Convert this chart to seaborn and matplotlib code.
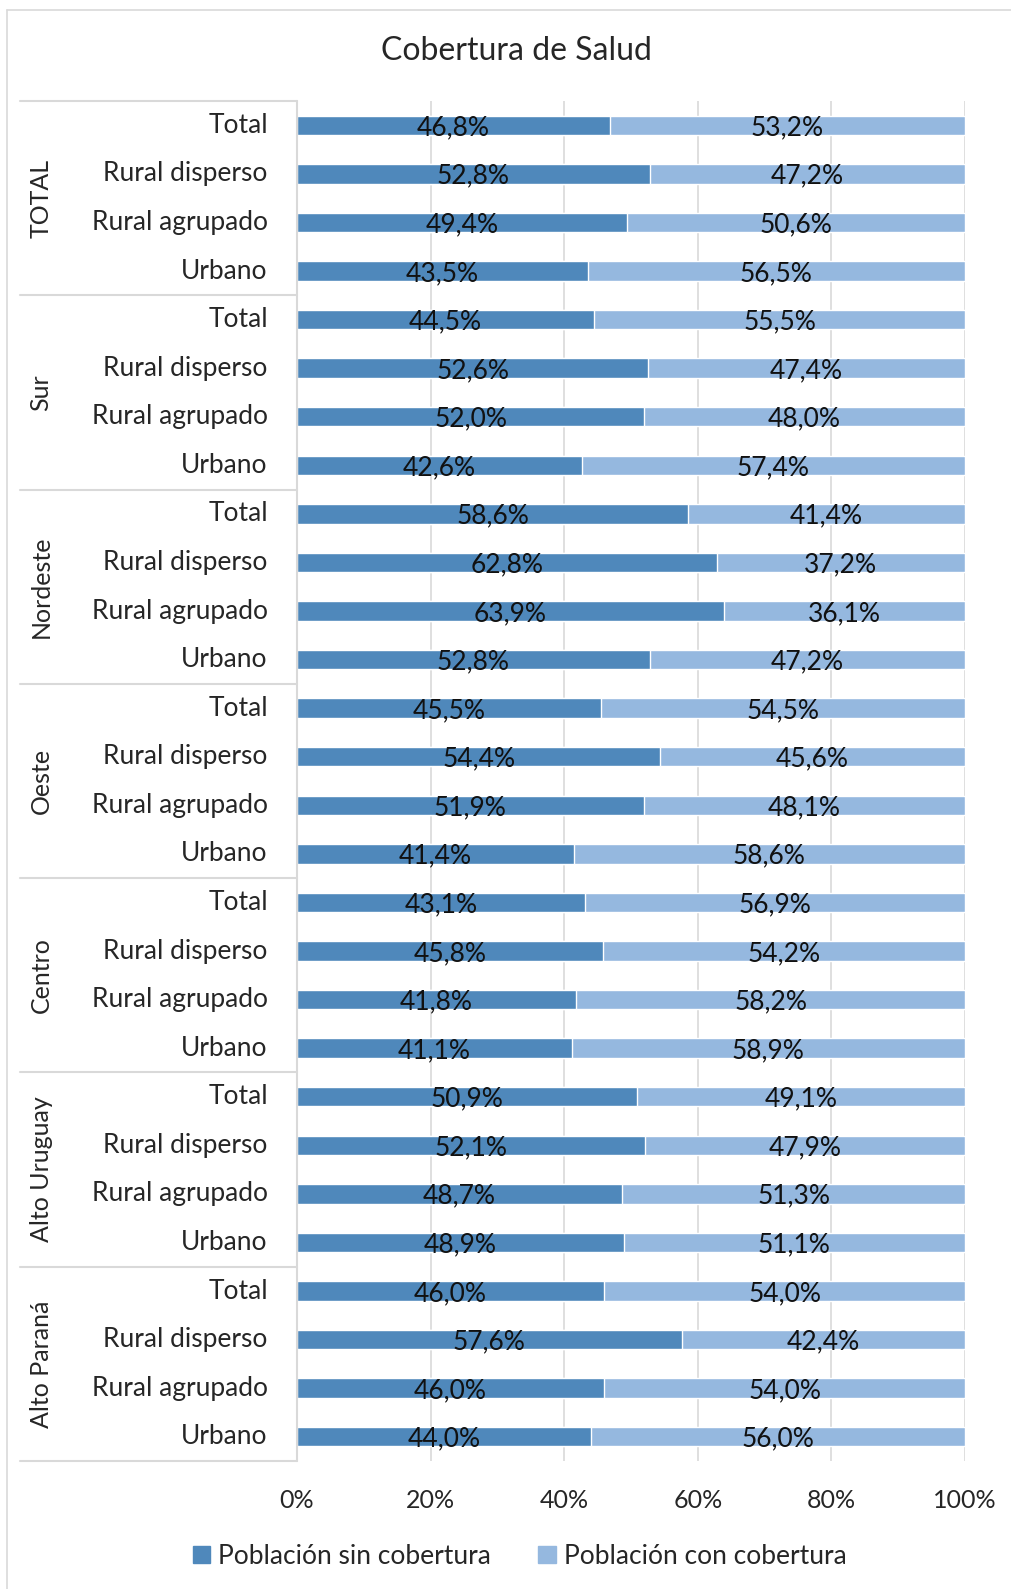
import pandas as pd
import matplotlib
matplotlib.use('Agg')
import matplotlib.pyplot as plt
import matplotlib.transforms as mtransforms
from matplotlib.patches import Patch
import seaborn as sns

# data (top to bottom)
regiones = ['TOTAL', 'Sur', 'Nordeste', 'Oeste', 'Centro', 'Alto Uruguay', 'Alto Paraná']
areas = ['Total', 'Rural disperso', 'Rural agrupado', 'Urbano']

sin_cobertura = [46.8, 52.8, 49.4, 43.5,
                 44.5, 52.6, 52.0, 42.6,
                 58.6, 62.8, 63.9, 52.8,
                 45.5, 54.4, 51.9, 41.4,
                 43.1, 45.8, 41.8, 41.1,
                 50.9, 52.1, 48.7, 48.9,
                 46.0, 57.6, 46.0, 44.0]
con_cobertura = [53.2, 47.2, 50.6, 56.5,
                 55.5, 47.4, 48.0, 57.4,
                 41.4, 37.2, 36.1, 47.2,
                 54.5, 45.6, 48.1, 58.6,
                 56.9, 54.2, 58.2, 58.9,
                 49.1, 47.9, 51.3, 51.1,
                 54.0, 42.4, 54.0, 56.0]

color_sin = '#4f88bb'
color_con = '#95b8df'

rows = []
for i, reg in enumerate(regiones):
    for j, area in enumerate(areas):
        k = i * 4 + j
        rows.append({'fila': f'{reg}|{area}', 'area': area,
                     'sin': sin_cobertura[k], 'con': con_cobertura[k]})
df = pd.DataFrame(rows)
df['total'] = df['sin'] + df['con']

sns.set_style('white')
plt.rcParams['font.family'] = ['Lato', 'DejaVu Sans']

fig = plt.figure(figsize=(10.11, 15.89), dpi=100)
ax = fig.add_axes([297 / 1011, 1 - 1461 / 1589, 668 / 1011, 1360 / 1589])

order = list(df['fila'])
sns.barplot(data=df, y='fila', x='total', order=order, color=color_con,
            width=0.4, orient='h', ax=ax, saturation=1)
sns.barplot(data=df, y='fila', x='sin', order=order, color=color_sin,
            width=0.4, orient='h', ax=ax, saturation=1)

# bar labels
for k, r in df.iterrows():
    ax.text(r['sin'] / 2, k + 0.05, f"{r['sin']:.1f}%".replace('.', ','),
            ha='center', va='center', fontsize=19, color='#111111')
    ax.text(r['sin'] + r['con'] / 2, k + 0.05, f"{r['con']:.1f}%".replace('.', ','),
            ha='center', va='center', fontsize=19, color='#111111')

ax.set_xlim(0, 100)
ax.set_ylim(len(df) - 0.5, -0.5)
ax.set_xticks([0, 20, 40, 60, 80, 100])
ax.set_xticklabels(['0%', '20%', '40%', '60%', '80%', '100%'], fontsize=18)
ax.set_yticks(range(len(df)))
ax.set_yticklabels(df['area'], fontsize=19, va='center')
ax.tick_params(axis='y', length=0, pad=21)
ax.tick_params(axis='x', length=0, pad=20)
ax.set_xlabel('')
ax.set_ylabel('')
ax.xaxis.grid(True, color='#d9d9d9', linewidth=1.2)
ax.set_axisbelow(True)
for s in ax.spines.values():
    s.set_visible(False)

# group separators and labels
trans = mtransforms.blended_transform_factory(ax.transAxes, ax.transData)
x_left = (20 - 297) / 668
for g in range(len(regiones) + 1):
    yb = g * 4 - 0.5
    ax.plot([x_left, 0], [yb, yb], color='#d9d9d9', linewidth=1.5,
            transform=trans, clip_on=False)
ax.plot([0, 0], [-0.5, len(df) - 0.5], color='#d9d9d9', linewidth=1.5,
        transform=trans, clip_on=False)
for i, reg in enumerate(regiones):
    ax.text((41 - 297) / 668, i * 4 + 1.5, reg, rotation=90, ha='center',
            va='center', fontsize=18, transform=trans)

fig.text(0.511, 0.968, 'Cobertura de Salud', ha='center', va='center',
         fontsize=23)

handles = [Patch(color=color_sin, label='Población sin cobertura'),
           Patch(color=color_con, label='Población con cobertura')]
fig.legend(handles=handles, loc='center', bbox_to_anchor=(0.514, 0.0205),
           ncol=2, frameon=False, fontsize=19, handlelength=0.65,
           handleheight=0.65, handletextpad=0.3, columnspacing=1.8)

# chart border (left and top visible)
fig.add_artist(plt.Line2D([7 / 1011, 7 / 1011], [0, 1 - 10 / 1589],
                          color='#d9d9d9', linewidth=1.2))
fig.add_artist(plt.Line2D([7 / 1011, 1], [1 - 10 / 1589, 1 - 10 / 1589],
                          color='#d9d9d9', linewidth=1.2))

fig.savefig('out.png', dpi=100)
